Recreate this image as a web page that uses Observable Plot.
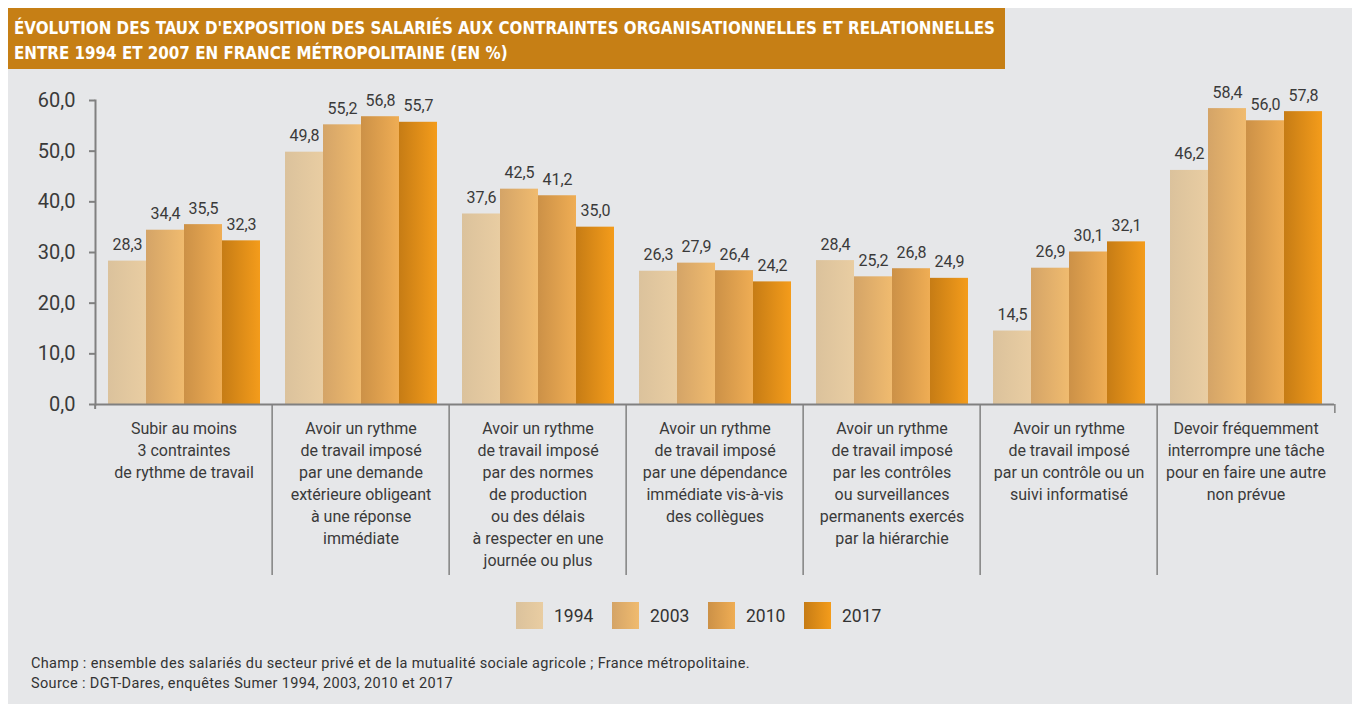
<!DOCTYPE html>
<html><head><meta charset="utf-8">
<script src="https://cdn.jsdelivr.net/npm/d3@7"></script>
<script src="https://cdn.jsdelivr.net/npm/@observablehq/plot@0.6"></script>
<style>
body{margin:0;background:#fff;width:1352px;height:704px;position:relative;overflow:hidden;font-family:Roboto,sans-serif;}
#bg{position:absolute;left:8px;top:8px;width:1344px;height:696px;background:#e6e7e9;}
#title{position:absolute;left:8px;top:8px;width:997px;height:61px;background:#c67f15;color:#fff;font-family:"DejaVu Sans Condensed","DejaVu Sans",sans-serif;font-stretch:condensed;font-weight:bold;font-size:18px;overflow:hidden;}
#title div{position:absolute;left:6px;white-space:nowrap;transform-origin:0 0;}
#chart{position:absolute;left:0;top:70px;}
#legend{position:absolute;top:602px;left:516px;display:flex;}
#legend .item{width:96px;display:flex;align-items:center;height:27px;}
#legend .sw{width:27px;height:27px;margin-right:11px;}
#legend span{font-size:17.5px;color:#333;}
#footer{position:absolute;left:31px;top:654px;font-size:14.5px;letter-spacing:0.35px;line-height:20px;color:#333;}
</style></head>
<body>
<div id="bg"></div>
<div id="title"><div id="t1" style="top:9px">ÉVOLUTION DES TAUX D'EXPOSITION DES SALARIÉS AUX CONTRAINTES ORGANISATIONNELLES ET RELATIONNELLES</div><div id="t2" style="top:34px">ENTRE 1994 ET 2007 EN FRANCE MÉTROPOLITAINE (EN %)</div></div>
<div id="chart"></div>
<div id="legend"></div>
<div id="footer">Champ : ensemble des salariés du secteur privé et de la mutualité sociale agricole ; France métropolitaine.<br>Source : DGT-Dares, enquêtes Sumer 1994, 2003, 2010 et 2017</div>
<script>
const categories = [
  "Subir au moins\n3 contraintes\nde rythme de travail",
  "Avoir un rythme\nde travail imposé\npar une demande\nextérieure obligeant\nà une réponse\nimmédiate",
  "Avoir un rythme\nde travail imposé\npar des normes\nde production\nou des délais\nà respecter en une\njournée ou plus",
  "Avoir un rythme\nde travail imposé\npar une dépendance\nimmédiate vis-à-vis\ndes collègues",
  "Avoir un rythme\nde travail imposé\npar les contrôles\nou surveillances\npermanents exercés\npar la hiérarchie",
  "Avoir un rythme\nde travail imposé\npar un contrôle ou un\nsuivi informatisé",
  "Devoir fréquemment\ninterrompre une tâche\npour en faire une autre\nnon prévue"
];
const years = ["1994", "2003", "2010", "2017"];
const v1994 = [28.3, 49.8, 37.6, 26.3, 28.4, 14.5, 46.2];
const v2003 = [34.4, 55.2, 42.5, 27.9, 25.2, 26.9, 58.4];
const v2010 = [35.5, 56.8, 41.2, 26.4, 26.8, 30.1, 56.0];
const v2017 = [32.3, 55.7, 35.0, 24.2, 24.9, 32.1, 57.8];
const yTicks = [0, 10, 20, 30, 40, 50, 60];
const gradStart = ["#dbc29c", "#d4a467", "#cc9147", "#c67c15"];
const gradEnd = ["#e9cda2", "#f0bb6f", "#efad54", "#f49c1b"];

const series = [v1994, v2003, v2010, v2017];
const data = categories.flatMap((c, i) => years.map((y, j) => ({cat: c, year: y, value: series[j][i]})));
const fmt = d => d.toFixed(1).replace(".", ",");
const gradId = y => `url(#g${y})`;

const W = 1352, H = 520, mL = 92, mR = 16, mT = 30, mB = 186;
const bw = (W - mL - mR) / categories.length;
const axisCol = "#808080";

const chart = Plot.plot({
  width: W, height: H,
  marginLeft: mL, marginRight: mR, marginTop: mT, marginBottom: mB,
  style: {background: "transparent", fontFamily: "Roboto, sans-serif", color: "#3a3a3a", overflow: "visible"},
  fx: {domain: categories, padding: 0, label: null},
  x: {domain: years, paddingInner: 0, paddingOuter: 0.28, axis: null},
  y: {domain: [0, 60], label: null},
  color: {type: "identity"},
  marks: [
    Plot.barY(data, {fx: "cat", x: "year", y: "value", fill: d => gradId(d.year)}),
    Plot.text(data, {fx: "cat", x: "year", y: "value", text: d => fmt(d.value), lineAnchor: "bottom", dy: -11, fontSize: 16, fill: "#3a3a3a"}),
    Plot.ruleY([0], {stroke: axisCol, strokeWidth: 2}),
    Plot.frame({anchor: "left", facetAnchor: "left", stroke: axisCol, strokeWidth: 2}),
    Plot.axisY({ticks: yTicks, tickFormat: fmt, tickSize: 6, tickPadding: 14, fontSize: 20, stroke: axisCol, strokeWidth: 2, label: null}),
    Plot.axisFx({anchor: "bottom", ticks: categories.slice(0, 1), tickSize: 5, dx: -bw / 2, tickFormat: () => "", stroke: axisCol, strokeWidth: 2, label: null}),
    Plot.axisFx({anchor: "bottom", ticks: categories.slice(1), tickSize: 171, dx: -bw / 2, tickFormat: () => "", stroke: axisCol, strokeWidth: 1.5, label: null}),
    Plot.axisFx({anchor: "bottom", ticks: categories.slice(-1), tickSize: 9, dx: bw / 2, tickFormat: () => "", stroke: axisCol, strokeWidth: 1.5, label: null}),
    Plot.axisFx({anchor: "bottom", tickSize: 0, tickPadding: 14, fontSize: 16, lineHeight: 1.375, label: null, fill: "#3a3a3a"})
  ]
});

const defs = d3.select(chart).insert("defs", ":first-child");
years.forEach((y, j) => {
  const g = defs.append("linearGradient").attr("id", "g" + y).attr("x1", 0).attr("x2", 1).attr("y1", 0).attr("y2", 0);
  g.append("stop").attr("offset", 0).attr("stop-color", gradStart[j]);
  g.append("stop").attr("offset", 1).attr("stop-color", gradEnd[j]);
});
document.getElementById("chart").appendChild(chart);

const legend = d3.select("#legend");
years.forEach((y, j) => {
  const it = legend.append("div").attr("class", "item");
  it.append("div").attr("class", "sw").style("background", `linear-gradient(to right, ${gradStart[j]}, ${gradEnd[j]})`);
  it.append("span").text(y);
});

// fit title width to the reference banner text width
const t1 = document.getElementById("t1"), t2 = document.getElementById("t2");
const s = 981 / t1.getBoundingClientRect().width;
t1.style.transform = `scaleX(${s})`;
t2.style.transform = `scaleX(${s})`;
</script>
</body></html>
